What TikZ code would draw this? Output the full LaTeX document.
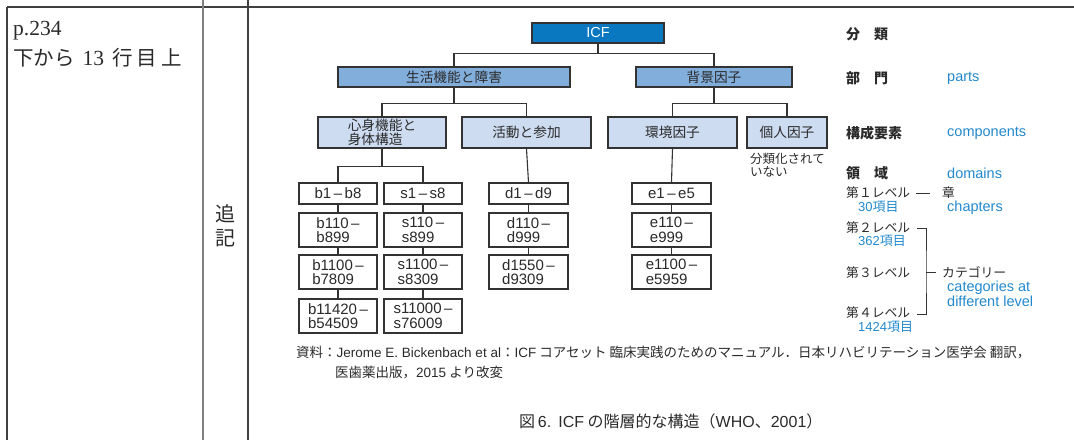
\documentclass[tikz,border=0pt]{standalone}
\usepackage{fontspec}
\setsansfont{Liberation Sans}
\newfontfamily\jp{Noto Sans CJK JP}
\newfontfamily\lsans{Liberation Sans}
\newfontfamily\lserif{Liberation Serif}
\definecolor{icfblue}{HTML}{0A78C0}
\definecolor{midblue}{HTML}{82AEDC}
\definecolor{lightblue}{HTML}{CDDCF0}
\definecolor{legblue}{HTML}{2288CC}
\definecolor{linec}{HTML}{333333}
\definecolor{textc}{HTML}{2A2A2A}
\begin{document}
\begin{tikzpicture}[x=1pt,y=-1pt,
  box/.style={draw=linec, line width=1.1pt, inner sep=0pt, anchor=center, text=textc},
  lvone/.style={box, fill=icfblue, text=white, font=\lsans\fontsize{14.5}{15}\selectfont},
  lvtwo/.style={box, fill=midblue, font=\jp\fontsize{13.7}{14}\selectfont},
  lvthree/.style={box, fill=lightblue, font=\jp\fontsize{13.7}{14}\selectfont, align=left},
  codebox/.style={box, fill=white, font=\lsans\fontsize{15}{14.5}\selectfont, align=left, minimum width=78pt},
  conn/.style={draw=linec, line width=1.1pt},
  tline/.style={draw=black!75, line width=1.2pt},
  lhead/.style={anchor=west, inner sep=0pt, text=textc, font=\jp\bfseries\fontsize{14}{14}\selectfont},
  llev/.style={anchor=west, inner sep=0pt, text=textc, font=\jp\fontsize{12.8}{13}\selectfont},
  leng/.style={anchor=west, inner sep=0pt, text=legblue, font=\lsans\fontsize{14.5}{15}\selectfont, align=left},
  lcnt/.style={anchor=west, inner sep=0pt, text=legblue, font=\lsans\fontsize{13}{13}\selectfont},
  note/.style={anchor=west, inner sep=0pt, text=textc, font=\jp\fontsize{13.5}{14}\selectfont}
]
\useasboundingbox (0,0) rectangle (1074,440);
% table lines
\draw[tline] (7,7) -- (1074,7);
\draw[tline] (7,7) -- (7,440);
\draw[draw=black!50, line width=1.7pt] (203,0) -- (203,440);
\draw[tline] (248,0) -- (248,440);
% left cells
\node[anchor=base west, inner sep=0pt, text=textc, font=\lserif\fontsize{21.5}{22}\selectfont] (page) at (13,35) {p.234};
\node[anchor=west, inner sep=0pt, text=textc, font=\jp\fontsize{20.5}{21}\selectfont] (line) at (13,58) {下から\hspace{8pt}{\lserif\fontsize{21.5}{21}\selectfont 13}\hspace{8pt}行\hspace{4pt}目\hspace{4pt}上};
\node[anchor=center, inner sep=0pt, text=textc, font=\jp\fontsize{20}{23.5}\selectfont, align=center] (tsuiki) at (225,226) {追\\記};

% tree
\node[lvone, minimum width=132pt, minimum height=20pt] (icf) at (598,33) {ICF};
\node[lvtwo, minimum width=232pt, minimum height=20pt] (seikatsu) at (454,77) {生活機能と障害};
\node[lvtwo, minimum width=156pt, minimum height=20pt] (haikei) at (714,77) {背景因子};
\node[lvthree, minimum width=128pt, minimum height=31pt] (shinshin) at (382,132.5) {心身機能と\\身体構造};
\node[lvthree, minimum width=129pt, minimum height=31pt] (katsudo) at (526.5,132.5) {活動と参加};
\node[lvthree, minimum width=129pt, minimum height=31pt] (kankyo) at (672.5,132.5) {環境因子};
\node[lvthree, minimum width=80pt, minimum height=31pt] (kojin) at (787,132.5) {個人因子};
\node[anchor=north west, inner sep=0pt, text=textc, font=\jp\fontsize{12.5}{12.5}\selectfont, align=left] (bunrui) at (750,153) {分類化されて\\いない};

% code boxes
\node[codebox, minimum height=21pt] (b1) at (338,193.5) {b1\,–\,b8};
\node[codebox, minimum height=34pt] (b2) at (338,230) {b110\,–\\b899};
\node[codebox, minimum height=34pt] (b3) at (338,272) {b1100\,–\\b7809};
\node[codebox, minimum height=34pt] (b4) at (338,316) {b11420\,–\\b54509};
\node[codebox, minimum height=21pt] (s1) at (423,193.5) {s1\,–\,s8};
\node[codebox, minimum height=34pt] (s2) at (423,230) {s110\,–\\s899};
\node[codebox, minimum height=34pt] (s3) at (423,272) {s1100\,–\\s8309};
\node[codebox, minimum height=34pt] (s4) at (423,316) {s11000\,–\\s76009};
\node[codebox, minimum width=79pt, minimum height=21pt] (d1) at (528.5,193.5) {d1\,–\,d9};
\node[codebox, minimum width=79pt, minimum height=34pt] (d2) at (528.5,230) {d110\,–\\d999};
\node[codebox, minimum width=79pt, minimum height=34pt] (d3) at (528.5,272) {d1550\,–\\d9309};
\node[codebox, minimum width=79pt, minimum height=21pt] (e1) at (671.5,193.5) {e1\,–\,e5};
\node[codebox, minimum width=79pt, minimum height=34pt] (e2) at (671.5,230) {e110\,–\\e999};
\node[codebox, minimum width=79pt, minimum height=34pt] (e3) at (671.5,272) {e1100\,–\\e5959};

% connectors
\draw[conn] (icf.south) -- ++(0,10) -| (seikatsu.north);
\draw[conn] (icf.south) -- ++(0,10) -| (haikei.north);
\draw[conn] (seikatsu.south) -- ++(0,15.5) -| (shinshin.north);
\draw[conn] (seikatsu.south) -- ++(0,15.5) -| (katsudo.north);
\draw[conn] (haikei.south) -- ++(0,15.5) -| (kankyo.north);
\draw[conn] (haikei.south) -- ++(0,15.5) -| (kojin.north);
\draw[conn] (shinshin.south) -- ++(0,18) -| (b1.north);
\draw[conn] (shinshin.south) -- ++(0,18) -| (s1.north);
\draw[conn] (katsudo.south) -- (d1.north);
\draw[conn] (kankyo.south) -- (e1.north);
\draw[conn] (b1) -- (b2); \draw[conn] (b2) -- (b3); \draw[conn] (b3) -- (b4);
\draw[conn] (s1) -- (s2); \draw[conn] (s2) -- (s3); \draw[conn] (s3) -- (s4);
\draw[conn] (d1) -- (d2); \draw[conn] (d2) -- (d3);
\draw[conn] (e1) -- (e2); \draw[conn] (e2) -- (e3);

% legend
\node[lhead] (hbunrui) at (846,34) {分　類};
\node[lhead] (hbumon) at (846,78) {部　門};
\node[leng] (parts) at (947,78) {parts};
\node[lhead] (hkousei) at (846,133) {構成要素};
\node[leng] (comp) at (947,133) {components};
\node[lhead] (hryoiki) at (846,173) {領　域};
\node[leng] (domains) at (947,173) {domains};
\node[llev] (lv1) at (846,193) {第１レベル};
\node[lcnt] (c1) at (858,206.5) {30{\jp 項目}};
\node[llev] (sho) at (942,193) {章};
\node[leng] (chap) at (947,208) {chapters};
\node[llev] (lv2) at (846,228) {第２レベル};
\node[lcnt] (c2) at (858,241) {362{\jp 項目}};
\node[llev] (lv3) at (846,273) {第３レベル};
\node[llev] (lv4) at (846,313) {第４レベル};
\node[lcnt] (c4) at (858,327) {1424{\jp 項目}};
\node[llev] (cat) at (942,272) {カテゴリー};
\node[leng, anchor=north west] (catsen) at (947,281) {categories at\\[-0.5pt]different level};
\coordinate (d1a) at (916,193);
\coordinate (d1b) at (930,193);
\draw[conn, line width=0.9pt] (d1a) -- (d1b);
\coordinate (bra) at (917,228);
\coordinate (brb) at (917,314);
\coordinate (brm) at (926,272);
\coordinate (brt) at (936,272);
\draw[conn, line width=0.9pt] (bra) -| (brm) |- (brb);
\draw[conn, line width=0.9pt] (brm) -- (brt);

% notes
\node[note] (src1) at (296,353) {資料：{\lsans Jerome E. Bickenbach et al}：{\lsans ICF} コアセット 臨床実践のためのマニュアル．日本リハビリテーション医学会 翻訳，};
\node[note] (src2) at (335,373) {医歯薬出版，{\lsans 2015} より改変};
\node[anchor=west, inner sep=0pt, text=textc, font=\jp\fontsize{16}{16}\selectfont] (fig) at (519,421) {図\,{\lsans 6.}\ \ {\lsans ICF} の階層的な構造（{\lsans WHO}、{\lsans 2001}）};
\end{tikzpicture}
\end{document}
